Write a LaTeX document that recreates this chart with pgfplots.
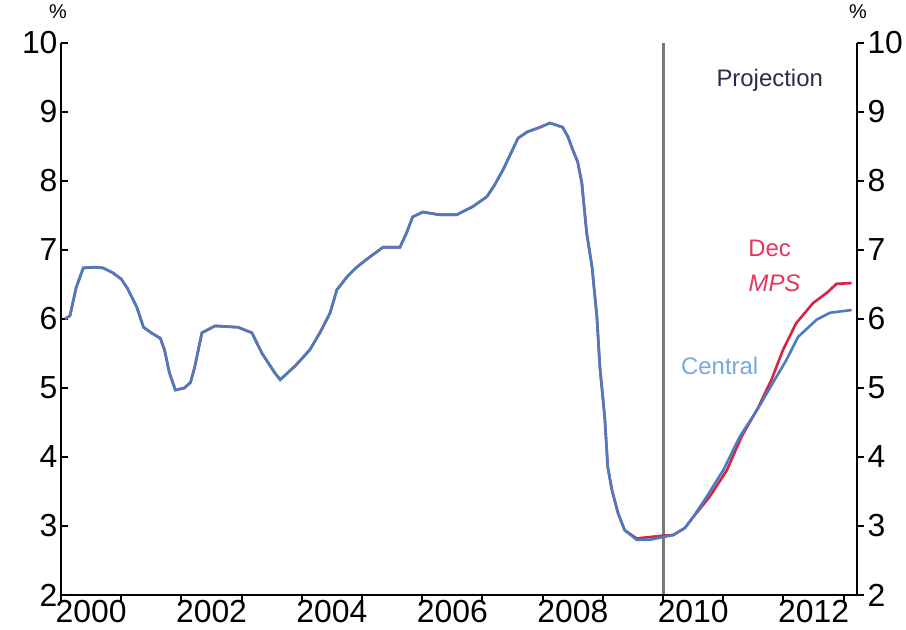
\documentclass[border=0pt]{standalone}
\usepackage{fontspec}
\setmainfont{Liberation Sans}
\usepackage{pgfplots}
\pgfplotsset{compat=1.18}
\definecolor{cred}{HTML}{D8243E}
\definecolor{cblue}{HTML}{4A7CC2}
\definecolor{tred}{HTML}{E2365A}
\definecolor{tblue}{HTML}{78A8DC}
\definecolor{tnavy}{HTML}{2A2A50}
\pgfplotstableread{
x y
2000.07 6.00
2000.15 6.05
2000.25 6.45
2000.37 6.74
2000.55 6.75
2000.70 6.74
2000.86 6.67
2001.00 6.58
2001.10 6.45
2001.26 6.17
2001.37 5.88
2001.50 5.80
2001.65 5.72
2001.72 5.55
2001.80 5.22
2001.90 4.97
2002.05 5.00
2002.15 5.08
2002.22 5.30
2002.34 5.80
2002.56 5.90
2002.94 5.88
2003.17 5.80
2003.34 5.50
2003.55 5.22
2003.64 5.12
2003.89 5.32
2004.13 5.55
2004.30 5.80
2004.47 6.09
2004.58 6.42
2004.75 6.61
2004.91 6.75
2005.13 6.90
2005.35 7.04
2005.63 7.04
2005.74 7.25
2005.84 7.48
2006.01 7.55
2006.29 7.51
2006.57 7.51
2006.84 7.63
2007.07 7.77
2007.20 7.94
2007.34 8.16
2007.46 8.38
2007.59 8.62
2007.74 8.71
2007.96 8.78
2008.12 8.84
2008.33 8.78
2008.42 8.64
2008.50 8.45
2008.58 8.28
2008.65 7.97
2008.73 7.25
2008.82 6.75
2008.90 6.03
2008.95 5.30
2009.03 4.58
2009.08 3.86
2009.15 3.52
2009.25 3.19
2009.36 2.94
2009.56 2.80
2009.78 2.80
2010.00 2.84
2010.17 2.87
2010.36 2.97
2010.50 3.13
2010.72 3.42
2011.00 3.81
2011.27 4.29
2011.56 4.68
2011.82 5.07
2012.05 5.41
2012.24 5.74
2012.55 5.99
2012.77 6.09
2013.13 6.13
}\central
\pgfplotstableread{
x y
2000.07 6.00
2000.15 6.05
2000.25 6.45
2000.37 6.74
2000.55 6.75
2000.70 6.74
2000.86 6.67
2001.00 6.58
2001.10 6.45
2001.26 6.17
2001.37 5.88
2001.50 5.80
2001.65 5.72
2001.72 5.55
2001.80 5.22
2001.90 4.97
2002.05 5.00
2002.15 5.08
2002.22 5.30
2002.34 5.80
2002.56 5.90
2002.94 5.88
2003.17 5.80
2003.34 5.50
2003.55 5.22
2003.64 5.12
2003.89 5.32
2004.13 5.55
2004.30 5.80
2004.47 6.09
2004.58 6.42
2004.75 6.61
2004.91 6.75
2005.13 6.90
2005.35 7.04
2005.63 7.04
2005.74 7.25
2005.84 7.48
2006.01 7.55
2006.29 7.51
2006.57 7.51
2006.84 7.63
2007.07 7.77
2007.20 7.94
2007.34 8.16
2007.46 8.38
2007.59 8.62
2007.74 8.71
2007.96 8.78
2008.12 8.84
2008.33 8.78
2008.42 8.64
2008.50 8.45
2008.58 8.28
2008.65 7.97
2008.73 7.25
2008.82 6.75
2008.90 6.03
2008.95 5.30
2009.03 4.58
2009.08 3.86
2009.15 3.52
2009.25 3.19
2009.36 2.94
2009.56 2.82
2009.78 2.84
2010.00 2.86
2010.17 2.87
2010.36 2.97
2010.50 3.13
2010.77 3.42
2011.06 3.81
2011.30 4.29
2011.58 4.72
2011.80 5.12
2011.99 5.55
2012.21 5.94
2012.49 6.23
2012.72 6.38
2012.88 6.51
2013.13 6.52
}\decmps
\begin{document}
\begin{tikzpicture}
\begin{axis}[name=ax, scale only axis, width=796bp, height=552bp,
  xmin=2000, xmax=2013.22, ymin=2, ymax=10,
  axis x line*=bottom, axis y line*=box,
  axis line style={line width=2.5bp, black},
  ytick={2,...,10}, ytick pos=left,
  xtick={2000.5,2002.5,...,2012.5},
  xticklabels={2000,2002,2004,2006,2008,2010,2012},
  tick align=inside,
  major tick length=7bp,
  major x tick style={draw=none},
  major y tick style={line width=2bp, black},
  /pgf/number format/assume math mode=true,
  /pgf/number format/1000 sep={},
  ticklabel style={font=\fontsize{32}{36}\selectfont},
  xticklabel style={yshift=-2bp},
  clip=false,
]
\addplot[gray!95!black, line width=3bp] coordinates {(2010,2) (2010,10)};
\addplot[cred, line width=2.6bp] table[x=x,y=y] {\decmps};
\addplot[cblue, line width=2.6bp] table[x=x,y=y] {\central};
\node[text=tnavy, font=\fontsize{24}{28}\selectfont] at (axis cs:2011.77,9.46) {Projection};
\node[text=tred, font=\fontsize{24}{28}\selectfont] at (axis cs:2011.77,7.03) {Dec};
\node[text=tred, font=\fontsize{24}{28}\selectfont\itshape] at (axis cs:2011.85,6.52) {MPS};
\node[text=tblue, font=\fontsize{24}{28}\selectfont] at (axis cs:2010.94,5.32) {Central};
\node[font=\fontsize{20}{24}\selectfont] at ([shift={(-3bp,31bp)}]rel axis cs:0,1) {\%};
\node[font=\fontsize{20}{24}\selectfont] at ([shift={(1bp,31bp)}]rel axis cs:1,1) {\%};
\end{axis}
\begin{axis}[scale only axis, width=796bp, height=552bp,
  xmin=2000, xmax=2013.22, ymin=2, ymax=10,
  axis y line*=right, axis x line*=bottom,
  axis line style={line width=2.5bp, black},
  ytick={2,...,10},
  xtick={2000,...,2013}, xticklabels={},
  tick align=outside, major tick length=7bp,
  major tick style={line width=2bp, black},
  /pgf/number format/assume math mode=true,
  ticklabel style={font=\fontsize{32}{36}\selectfont},
]
\end{axis}
\pgfresetboundingbox
\path ([shift={(-61bp,-35bp)}]ax.south west) rectangle ([shift={(49bp,43bp)}]ax.north east);
\end{tikzpicture}
\end{document}
